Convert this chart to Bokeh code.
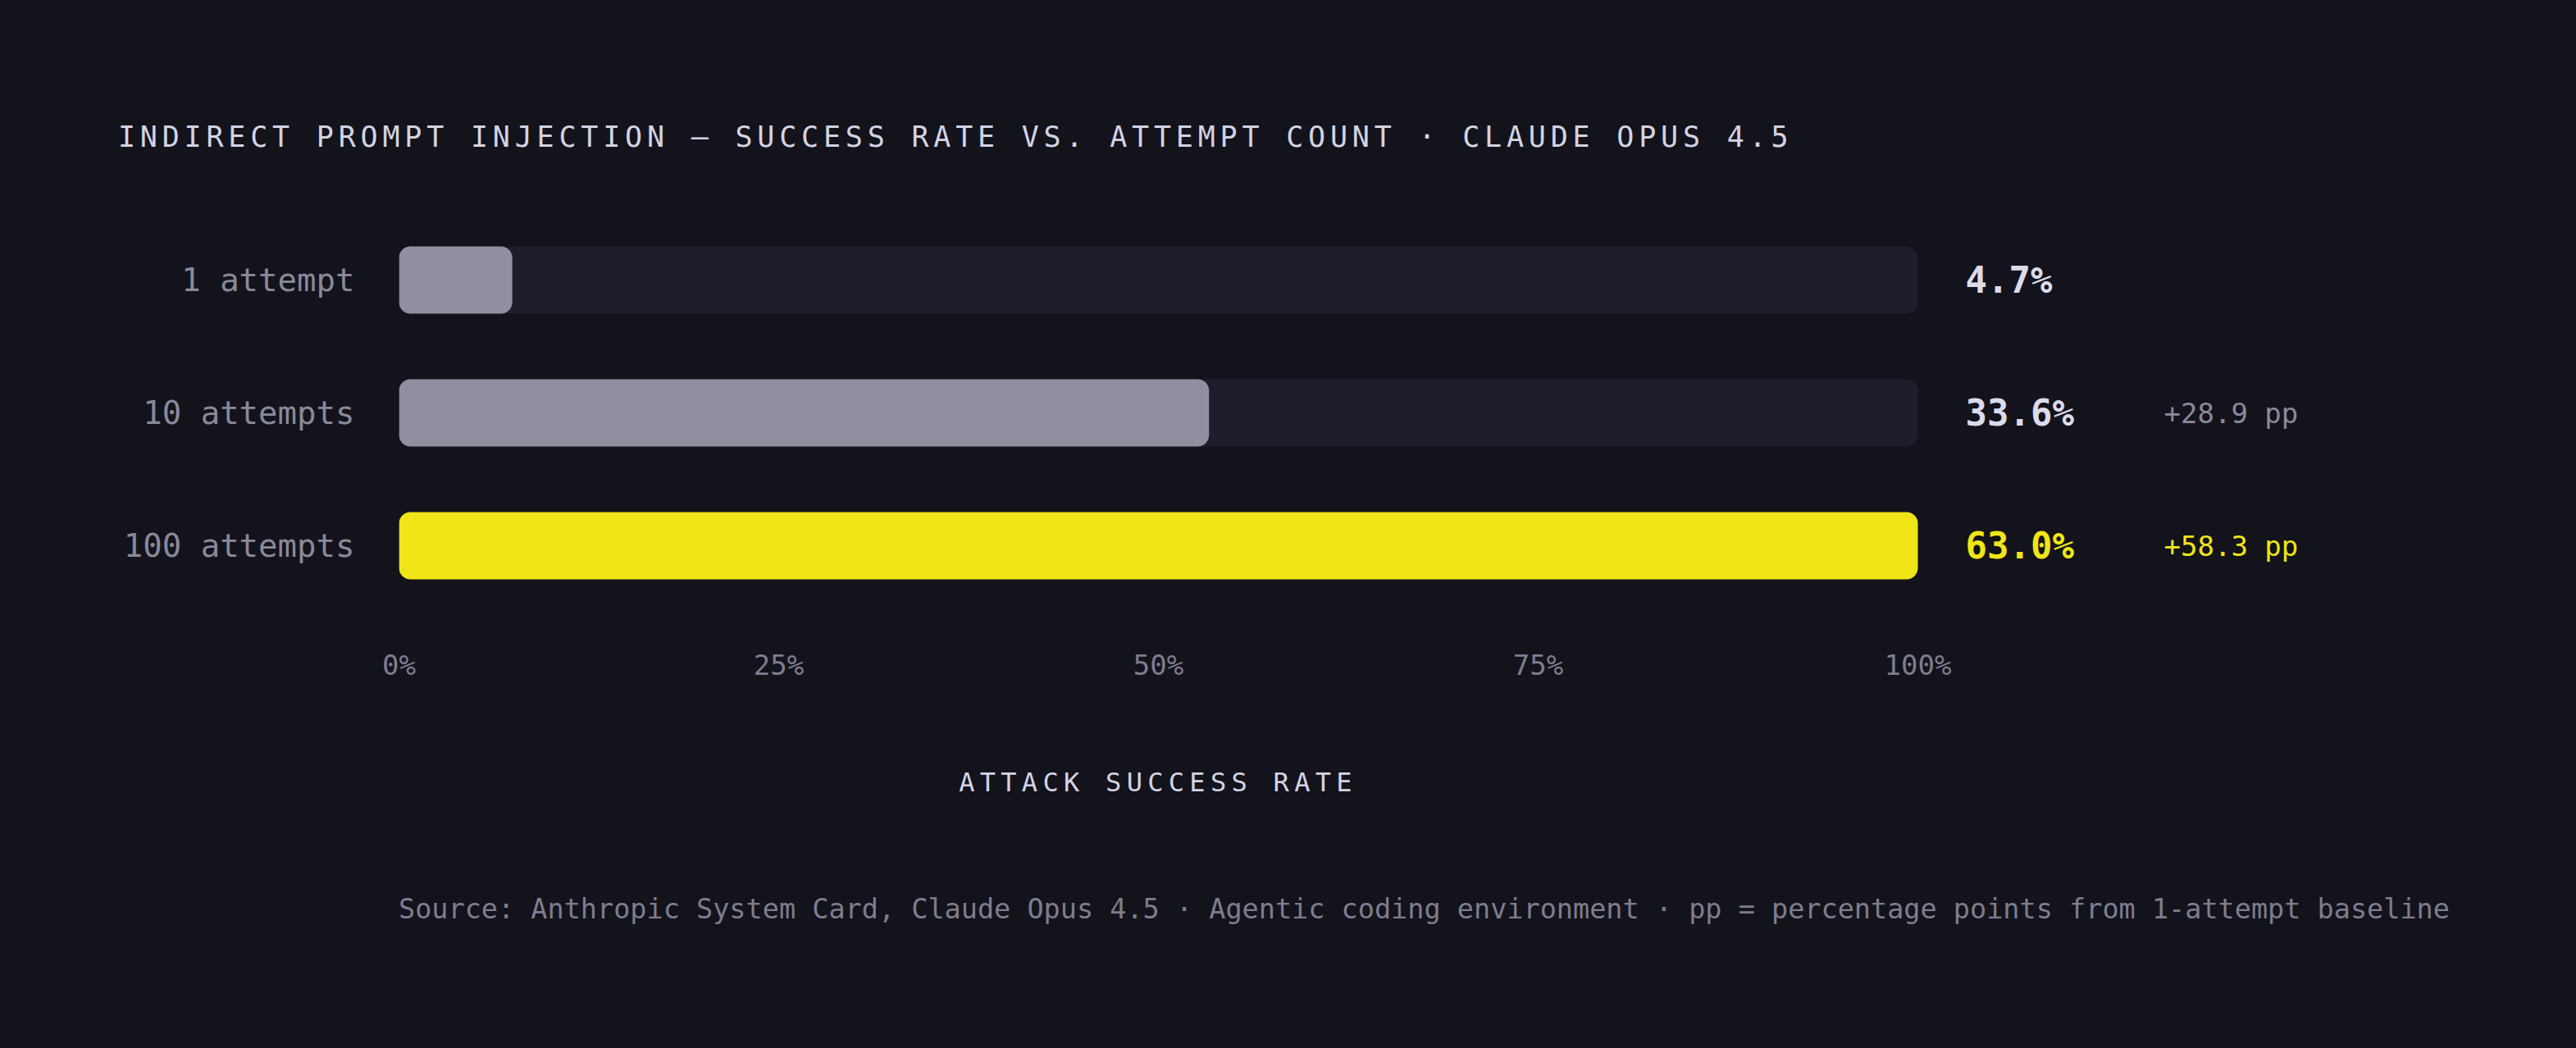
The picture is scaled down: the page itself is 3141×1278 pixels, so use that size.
from bokeh.plotting import figure
from bokeh.models import (ColumnDataSource, FactorRange, Range1d, FixedTicker,
                          PrintfTickFormatter, Div, GlobalInlineStyleSheet)
from bokeh.core.properties import value
from bokeh.layouts import column
from bokeh.embed import file_html
from bokeh.resources import INLINE

# ---------------- data ----------------
categories = ["1 attempt", "10 attempts", "100 attempts"]
success_rate = [4.7, 33.6, 63.0]          # attack success rate, %
tick_values = [0, 25, 50, 75, 100]         # axis ticks (% of max rate)
title_text = "INDIRECT PROMPT INJECTION \u2014 SUCCESS RATE VS. ATTEMPT COUNT \u00b7 CLAUDE OPUS 4.5"
axis_label_text = "ATTACK SUCCESS RATE"
source_text = ("Source: Anthropic System Card, Claude Opus 4.5 \u00b7 Agentic coding environment "
               "\u00b7 pp = percentage points from 1-attempt baseline")

# ---------------- style ----------------
BG = "#13131c"
TRACK = "#1e1d2b"
GRAY_BAR = "#908f9f"
YELLOW = "#f0e516"
TITLE_COL = "#d4d3e3"
LABEL_COL = "#8a899a"
TICK_COL = "#7e7d8e"
VALUE_COL = "#dcdbea"
FONT = "DejaVu Sans Mono"

TRACK_W = 1852      # px width of the 0-100% track
FRAME_W = 2600      # frame extends right so value labels are drawn inside it

max_rate = max(success_rate)
scaled = [v / max_rate * 100 for v in success_rate]
track_end = [100 for _ in categories]
baseline = success_rate[0]
pp = ["" if i == 0 else "+%.1f pp" % (v - baseline) for i, v in enumerate(success_rate)]
bar_colors = [GRAY_BAR, GRAY_BAR, YELLOW]
value_colors = [VALUE_COL, VALUE_COL, YELLOW]
pp_colors = [LABEL_COL, LABEL_COL, YELLOW]

src = ColumnDataSource(dict(
    cat=categories, scaled=scaled, track=track_end,
    val_text=["%.1f%%" % v for v in success_rate], pp=pp,
    bar_color=bar_colors, value_color=value_colors, pp_color=pp_colors,
))

p = figure(
    y_range=FactorRange(factors=list(reversed(categories))),
    x_range=Range1d(0, 100 * FRAME_W / TRACK_W),
    frame_width=FRAME_W, frame_height=486,
    min_border_left=478, min_border_right=20, min_border_top=12, min_border_bottom=162,
    output_backend="svg", toolbar_location=None,
    background_fill_color=BG, border_fill_color=BG, outline_line_color=None,
    margin=(0, 0, 0, 8),
)

p.hbar(y="cat", left=0, right="track", height=0.506, source=src,
       fill_color=TRACK, line_color=None, border_radius=14)
p.hbar(y="cat", left=0, right="scaled", height=0.506, source=src,
       fill_color="bar_color", line_color=None, border_radius=14)

p.text(x="track", y="cat", text="val_text", source=src, x_offset=58,
       text_baseline="middle", text_align="left", text_color="value_color",
       text_font=value(FONT), text_font_size="44px", text_font_style="bold")
p.text(x="track", y="cat", text="pp", source=src, x_offset=300,
       text_baseline="middle", text_align="left", text_color="pp_color",
       text_font=value(FONT), text_font_size="34px")

p.grid.visible = False

xa = p.xaxis[0]
xa.ticker = FixedTicker(ticks=tick_values)
xa.formatter = PrintfTickFormatter(format="%d%%")
xa.axis_line_color = None
xa.major_tick_line_color = None
xa.minor_tick_line_color = None
xa.major_label_text_font = FONT
xa.major_label_text_font_size = "34px"
xa.major_label_text_color = TICK_COL
xa.major_label_standoff = 38

ya = p.yaxis[0]
ya.axis_line_color = None
ya.major_tick_line_color = None
ya.minor_tick_line_color = None
ya.major_label_text_font = FONT
ya.major_label_text_font_size = "39px"
ya.major_label_text_color = LABEL_COL
ya.major_label_standoff = 48


def mk_div(text, size, color, spacing, margin, width, height, align="left"):
    return Div(text=text, margin=margin, width=width, height=height, styles={
        "font-family": "'%s', monospace" % FONT, "font-size": size, "color": color,
        "letter-spacing": spacing, "line-height": "1", "white-space": "nowrap",
        "text-align": align,
    })


title_div = mk_div(title_text, "35px", TITLE_COL, "5.8px", (150, 0, 38, 144), 2900, 60)
axis_div = mk_div(axis_label_text, "32px", TITLE_COL, "6.3px", (30, 0, 0, 486), TRACK_W, 40, "center")
source_div = mk_div(source_text, "33.5px", TICK_COL, "0px", (114, 0, 0, 486), 2640, 40)

layout = column(title_div, p, axis_div, source_div, spacing=0,
                styles={"background-color": BG},
                stylesheets=[GlobalInlineStyleSheet(css="html, body { background-color: %s; }" % BG)])

open("out.html", "w").write(file_html(layout, INLINE))
